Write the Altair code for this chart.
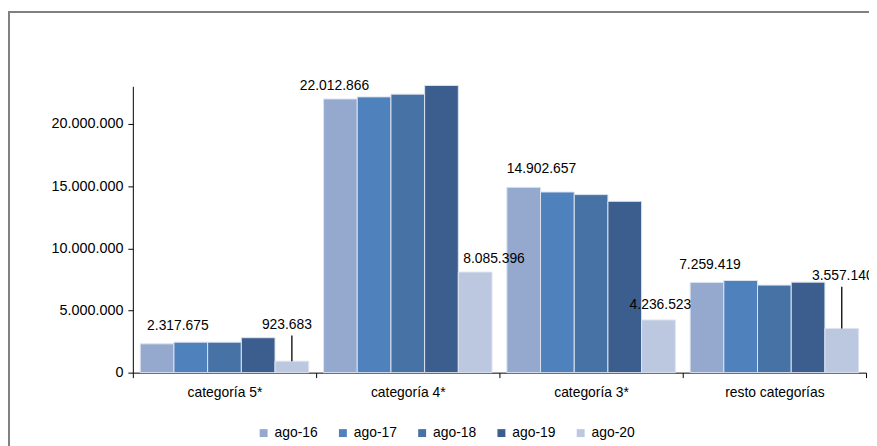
import altair as alt
import pandas as pd

categories = ["categoría 5*", "categoría 4*", "categoría 3*", "resto categorías"]
series = ["ago-16", "ago-17", "ago-18", "ago-19", "ago-20"]
ago16 = [2317675, 22012866, 14902657, 7259419]
ago17 = [2450000, 22180000, 14530000, 7410000]
ago18 = [2450000, 22400000, 14320000, 7040000]
ago19 = [2810000, 23100000, 13780000, 7280000]
ago20 = [923683, 8085396, 4236523, 3557140]
y_ticks = [0, 5000000, 10000000, 15000000, 20000000]

colors = ["#95A9CF", "#4F81BD", "#4672A6", "#3B5E8E", "#BCC8E0"]
FONT = "Liberation Sans"

rows = []
for s, vals in zip(series, [ago16, ago17, ago18, ago19, ago20]):
    for c, v in zip(categories, vals):
        rows.append({"cat": c, "serie": s, "valor": v,
                     "label": f"{v:,}".replace(",", ".")})
df = pd.DataFrame(rows)

# label nudges in pixels (style only)
nudges = {
    ("ago-16", "categoría 5*"): (21, -18),
    ("ago-16", "categoría 4*"): (-6, -13),
    ("ago-16", "categoría 3*"): (18, -18),
    ("ago-16", "resto categorías"): (3, -18),
    ("ago-20", "categoría 5*"): (-5, -36),
    ("ago-20", "categoría 4*"): (19, -13),
    ("ago-20", "categoría 3*"): (2, -15),
    ("ago-20", "resto categorías"): (1, -53),
}
leaders = {
    ("ago-20", "categoría 5*"): -26,
    ("ago-20", "resto categorías"): -42,
}

x_enc = alt.X("cat:N", sort=categories,
              scale=alt.Scale(domain=categories, paddingInner=0, paddingOuter=0),
              axis=alt.Axis(title=None, labelAngle=0, tickBand="extent", tickSize=5,
                            labelPadding=8, domainColor="#000", tickColor="#000",
                            labelColor="#000", labelFont=FONT, labelFontSize=14))
xo_enc = alt.XOffset("serie:N", sort=series,
                     scale=alt.Scale(domain=series, paddingInner=0, paddingOuter=0.22))
y_enc = alt.Y("valor:Q",
              scale=alt.Scale(domain=[0, 23030000], nice=False, zero=True),
              axis=alt.Axis(title=None, values=y_ticks, tickSize=5, labelPadding=5,
                            domainColor="#000", tickColor="#000", labelColor="#000",
                            labelFont=FONT, labelFontSize=14.5,
                            labelExpr="replace(format(datum.value, ','), regexp(',', 'g'), '.')"))

base = alt.Chart(df)

bars = base.mark_bar(stroke="#dde4f0", strokeWidth=1, clip=False).encode(
    x=x_enc, xOffset=xo_enc, y=y_enc,
    color=alt.Color("serie:N", sort=series,
                    scale=alt.Scale(domain=series, range=colors),
                    legend=alt.Legend(title=None, orient="none", legendX=125, legendY=343,
                                      direction="horizontal", symbolType="square",
                                      symbolSize=64, symbolStrokeWidth=0,
                                      labelFont=FONT, labelFontSize=14, labelColor="#000",
                                      columnPadding=18, labelOffset=4, padding=0)),
)

layers = [bars]
for (s, c), (dx, dy) in nudges.items():
    layers.append(
        base.transform_filter((alt.datum.serie == s) & (alt.datum.cat == c))
        .mark_text(dx=dx, dy=dy, font=FONT, fontSize=14, color="#000",
                   align="center", baseline="middle")
        .encode(x="cat:N", xOffset="serie:N", y="valor:Q", text="label:N")
    )
for (s, c), off in leaders.items():
    layers.append(
        base.transform_filter((alt.datum.serie == s) & (alt.datum.cat == c))
        .mark_rule(color="#000", strokeWidth=1.3, y2Offset=off)
        .encode(x="cat:N", xOffset="serie:N", y="valor:Q", y2=alt.Y2("valor"))
    )

frame = alt.Chart(pd.DataFrame({"f": [0]})).mark_rect(
    fill=None, stroke="#808080", strokeWidth=2
).encode(x=alt.value(-125), x2=alt.value(900), y=alt.value(-75), y2=alt.value(500))
layers.append(frame)

chart = alt.layer(*layers).properties(
    width=740, height=289,
    autosize=alt.AutoSizeParams(type="none"),
    padding={"left": 126, "top": 77, "right": 3, "bottom": 72},
    background="white",
).configure_view(stroke=None).configure_axis(grid=False)

chart.save("out.html", embed_options={"renderer": "svg", "actions": False})
